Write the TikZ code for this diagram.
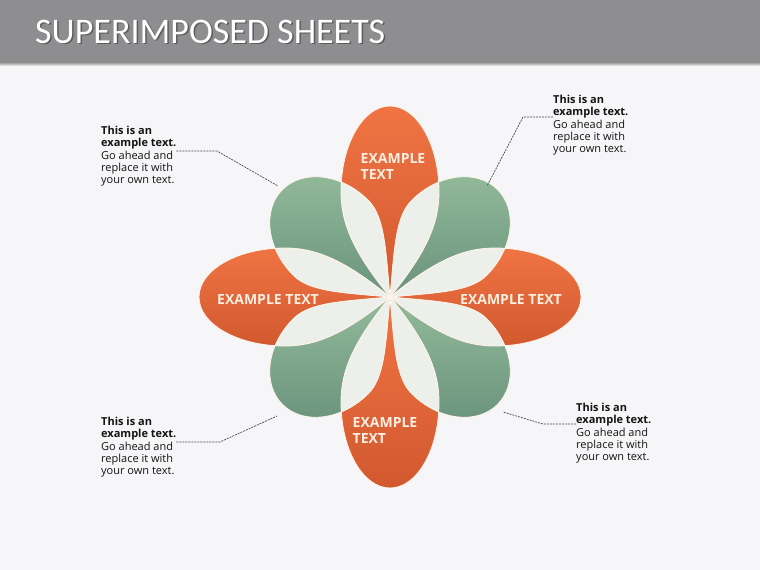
\documentclass[tikz,border=0pt]{standalone}
\usepackage{fontspec}
\setmainfont{Open Sans}
\newfontfamily\titlefont{Carlito}
\usetikzlibrary{calc,positioning}

\definecolor{barGray}{HTML}{8E8D90}
\definecolor{pageGray}{HTML}{F6F6F8}
\definecolor{orangeTop}{HTML}{F07443}
\definecolor{orangeBot}{HTML}{D2582F}
\definecolor{greenTop}{HTML}{93BA9A}
\definecolor{greenBot}{HTML}{6A937D}
\definecolor{lensWhite}{HTML}{EDF0EA}
\definecolor{labelCream}{HTML}{FCEFE2}
\definecolor{leaderGray}{HTML}{484848}

% petal: angle, length, half width, tip factor (tip sits in (o))
\newcommand{\petalpath}[4]{(o)
 .. controls ($(o)+(#1:{0.25*#2})+(#1-90:{#4*#3})$) and ($(o)+(#1:{0.4*#2})+(#1-90:#3)$) .. ($(o)+(#1:{0.55*#2})+(#1-90:#3)$)
 .. controls ($(o)+(#1:{0.7985*#2})+(#1-90:#3)$) and ($(o)+(#1:#2)+(#1-90:{0.5523*#3})$) .. ($(o)+(#1:#2)$)
 .. controls ($(o)+(#1:#2)+(#1+90:{0.5523*#3})$) and ($(o)+(#1:{0.7985*#2})+(#1+90:#3)$) .. ($(o)+(#1:{0.55*#2})+(#1+90:#3)$)
 .. controls ($(o)+(#1:{0.4*#2})+(#1+90:#3)$) and ($(o)+(#1:{0.25*#2})+(#1+90:{#4*#3})$) .. (o) -- cycle}
\newcommand{\greenleaf}[1]{\petalpath{#1}{152}{53}{0.6}}
\newcommand{\orangeleaf}[1]{\petalpath{#1}{191}{49}{0.8}}

\tikzset{
  orangepetal/.style={top color=orangeTop,bottom color=orangeBot},
  greenpetal/.style={top color=greenTop,bottom color=greenBot},
  lens/.style={fill=lensWhite},
  petaledge/.style={draw=white!92!orange,line width=0.8pt},
  petallabel/.style={text=labelCream,font=\bfseries\fontsize{14}{16}\selectfont,align=left,inner sep=0pt},
  note/.style={font=\fontsize{11}{12.3}\selectfont,align=left,inner sep=0pt,text=black!92},
  leader/.style={draw=leaderGray,dash pattern=on 2pt off 1pt,line width=0.7pt}
}

\begin{document}
\begin{tikzpicture}[x=1pt,y=-1pt]
\useasboundingbox (0,0) rectangle (760,570);
\fill[pageGray] (0,0) rectangle (760,570);
\shade[top color=black!45,bottom color=pageGray] (0,62) rectangle (760,66);
\fill[barGray] (0,0) rectangle (760,62);
\node[anchor=base west,inner sep=0pt,text=black,opacity=0.35,font=\titlefont\fontsize{36}{40}\selectfont] (titleshadow) at (36.5,44.5) {SUPERIMPOSED SHEETS};
\node[anchor=base west,inner sep=0pt,text=white,font=\titlefont\fontsize{36}{40}\selectfont] (title) at (35,43) {SUPERIMPOSED SHEETS};

\coordinate (o) at (390,297);

\foreach \a in {45,135,225,315}{
\shade[greenpetal] \greenleaf{\a};
}
\foreach \a in {0,90,180,270}{
\shade[orangepetal] \orangeleaf{\a};
}
\foreach \a/\g in {0/45,0/315,90/45,90/135,180/135,180/225,270/225,270/315}{
\begin{scope}
\clip \orangeleaf{\a};
\fill[lens] \greenleaf{\g};
\end{scope}
}
\foreach \a in {45,135,225,315}{
\path[petaledge] \greenleaf{\a};
}
\foreach \a in {0,90,180,270}{
\path[petaledge] \orangeleaf{\a};
}

\node[petallabel] (ltop) at (393,166) {EXAMPLE\\TEXT};
\node[petallabel] (lbottom) at (385,430) {EXAMPLE\\TEXT};
\node[petallabel] (lleft) at (268,299) {EXAMPLE TEXT};
\node[petallabel] (lright) at (511,299) {EXAMPLE TEXT};

\node[note,anchor=north west] (tl) at (101,126) {\textbf{This is an}\\\textbf{example text.}\\Go ahead and\\replace it with\\your own text.};
\node[note,anchor=north west] (tr) at (553,95) {\textbf{This is an}\\\textbf{example text.}\\Go ahead and\\replace it with\\your own text.};
\node[note,anchor=north west] (bl) at (101,417) {\textbf{This is an}\\\textbf{example text.}\\Go ahead and\\replace it with\\your own text.};
\node[note,anchor=north west] (br) at (576,403) {\textbf{This is an}\\\textbf{example text.}\\Go ahead and\\replace it with\\your own text.};

\coordinate (tlknee) at (217,151);
\coordinate (tlfoot) at (278,186);
\coordinate (trknee) at (523,117);
\coordinate (trfoot) at (487,186);
\coordinate (blknee) at (220,442);
\coordinate (blfoot) at (277,416);
\coordinate (brknee) at (543,424);
\coordinate (brfoot) at (503,412);

\draw[leader] (tl.east |- tlknee) -- (tlknee) -- (tlfoot);
\draw[leader] (tr.west |- trknee) -- (trknee) -- (trfoot);
\draw[leader] (bl.east |- blknee) -- (blknee) -- (blfoot);
\draw[leader] (br.west |- brknee) -- (brknee) -- (brfoot);
\end{tikzpicture}
\end{document}
